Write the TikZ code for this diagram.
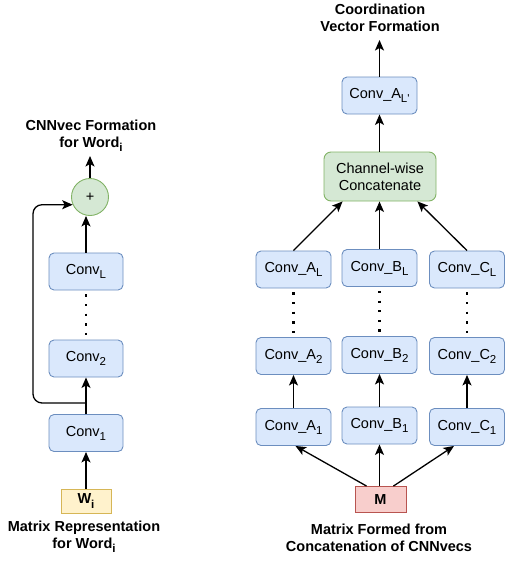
\documentclass[tikz,border=0pt]{standalone}
\usepackage{fontspec}
\setmainfont{Liberation Sans}
\usetikzlibrary{arrows.meta}
\definecolor{bfill}{HTML}{DAE8FC}\definecolor{bdraw}{HTML}{6C8EBF}
\definecolor{gfill}{HTML}{D5E8D4}\definecolor{gdraw}{HTML}{82B366}
\definecolor{yfill}{HTML}{FFF2CC}\definecolor{ydraw}{HTML}{D6B656}
\definecolor{rfill}{HTML}{F8CECC}\definecolor{rdraw}{HTML}{B85450}
\newcommand{\subtx}[1]{\raisebox{-0.28em}{\fontsize{11.5}{11.5}\selectfont #1}}
\tikzset{
  convbox/.style={draw=bdraw,fill=bfill,rounded corners=5pt,line width=0.9pt,minimum width=75pt,minimum height=37pt,inner sep=0pt,font=\fontsize{14.5}{17}\selectfont},
  greenbox/.style={draw=gdraw,fill=gfill,rounded corners=7pt,line width=0.9pt,minimum width=112pt,minimum height=49pt,inner sep=0pt,align=center,font=\fontsize{14.5}{17}\selectfont},
  sumcirc/.style={circle,draw=gdraw,fill=gfill,line width=0.9pt,minimum size=37pt,inner sep=0pt,font=\fontsize{14.5}{17}\selectfont},
  yellowbox/.style={draw=ydraw,fill=yfill,line width=0.9pt,minimum width=50pt,minimum height=24pt,inner sep=0pt,font=\bfseries\fontsize{14.5}{17}\selectfont},
  redbox/.style={draw=rdraw,fill=rfill,line width=0.9pt,minimum width=51pt,minimum height=26pt,inner sep=0pt,font=\bfseries\fontsize{14.5}{17}\selectfont},
  title/.style={align=center,inner sep=0pt,font=\bfseries\fontsize{14.5}{17}\selectfont},
  arr/.style={line width=1.3pt,-{Stealth[length=10.5pt,width=9pt,inset=2.5pt]}},
  dots/.style={line width=2.3pt,dash pattern=on 2.3pt off 7.3pt},
}
\begin{document}
\begin{tikzpicture}[x=1pt,y=-1pt]
\useasboundingbox (0,0) rectangle (506,563);
% ---------- left column ----------
\node[title] (ltitle) at (91,136) {CNNvec Formation\\for Word\subtx{i}};
\coordinate (lout) at (90,156);
\node[sumcirc] (c) at (90,197) {+};
\node[convbox,minimum width=74pt] (lL) at (86,271.5) {Conv\subtx{L}};
\node[convbox,minimum width=74pt] (l2) at (86,358.5) {Conv\subtx{2}};
\node[convbox,minimum width=74pt] (l1) at (86,433) {Conv\subtx{1}};
\node[yellowbox] (w) at (86,501) {W\subtx{i}};
\node[title] (lbot) at (84,536.5) {Matrix Representation\\for Word\subtx{i}};
\draw[arr] (c.north) -- (lout);
\draw[arr] (lL.north) -- (lL.north |- c.south);
\draw[dots] ([yshift=-4pt]lL.south) -- (l2.north);
\draw[arr] (l1.north) -- (l2.south);
\draw[arr] (w.north) -- (l1.south);
\coordinate (fbstart) at (86,403);
\coordinate (fbcorner) at (33,403);
\draw[arr,rounded corners=9pt] (fbstart) -- (fbcorner) |- (c.204);
% ---------- right column ----------
\node[title] (rtitle) at (380,18) {Coordination\\Vector Formation};
\coordinate (rout) at (379.5,40);
\node[convbox] (top) at (379.5,95.5) {Conv\_A\subtx{L\textquotesingle}};
\node[greenbox] (ch) at (380,176.5) {Channel-wise\\Concatenate};
\node[convbox] (aL) at (293.5,269.5) {Conv\_A\subtx{L}};
\node[convbox] (bL) at (379.5,268) {Conv\_B\subtx{L}};
\node[convbox] (cL) at (467,269.5) {Conv\_C\subtx{L}};
\node[convbox] (a2) at (293.5,356) {Conv\_A\subtx{2}};
\node[convbox] (b2) at (379.5,355) {Conv\_B\subtx{2}};
\node[convbox] (c2) at (467,356) {Conv\_C\subtx{2}};
\node[convbox] (a1) at (293.5,427) {Conv\_A\subtx{1}};
\node[convbox] (b1) at (379.5,425.5) {Conv\_B\subtx{1}};
\node[convbox] (c1) at (467,427) {Conv\_C\subtx{1}};
\node[redbox] (m) at (380.5,499.5) {M};
\node[title] (rbot) at (379,538) {Matrix Formed from\\Concatenation of CNNvecs};
\draw[arr] (top.north) -- (rout);
\draw[arr] (ch.north -| top.south) -- (top.south);
\draw[arr] (aL.north) -- ([xshift=19pt]ch.south west);
\draw[arr] (bL.north) -- (bL.north |- ch.south);
\draw[arr] (cL.north) -- ([xshift=-19pt]ch.south east);
\draw[dots] ([yshift=-4pt]aL.south) -- (a2.north);
\draw[dots] ([yshift=-4pt]bL.south) -- (b2.north);
\draw[dots] ([yshift=-4pt]cL.south) -- (c2.north);
\draw[arr] (a1.north) -- (a2.south);
\draw[arr] (b1.north) -- (b2.south);
\draw[arr] (c1.north) -- (c2.south);
\draw[arr] ([xshift=12pt]m.north west) -- ([xshift=2pt]a1.south);
\draw[arr] (m.north -| b1.south) -- (b1.south);
\draw[arr] ([xshift=-13pt]m.north east) -- ([xshift=-13pt]c1.south);
\end{tikzpicture}
\end{document}
